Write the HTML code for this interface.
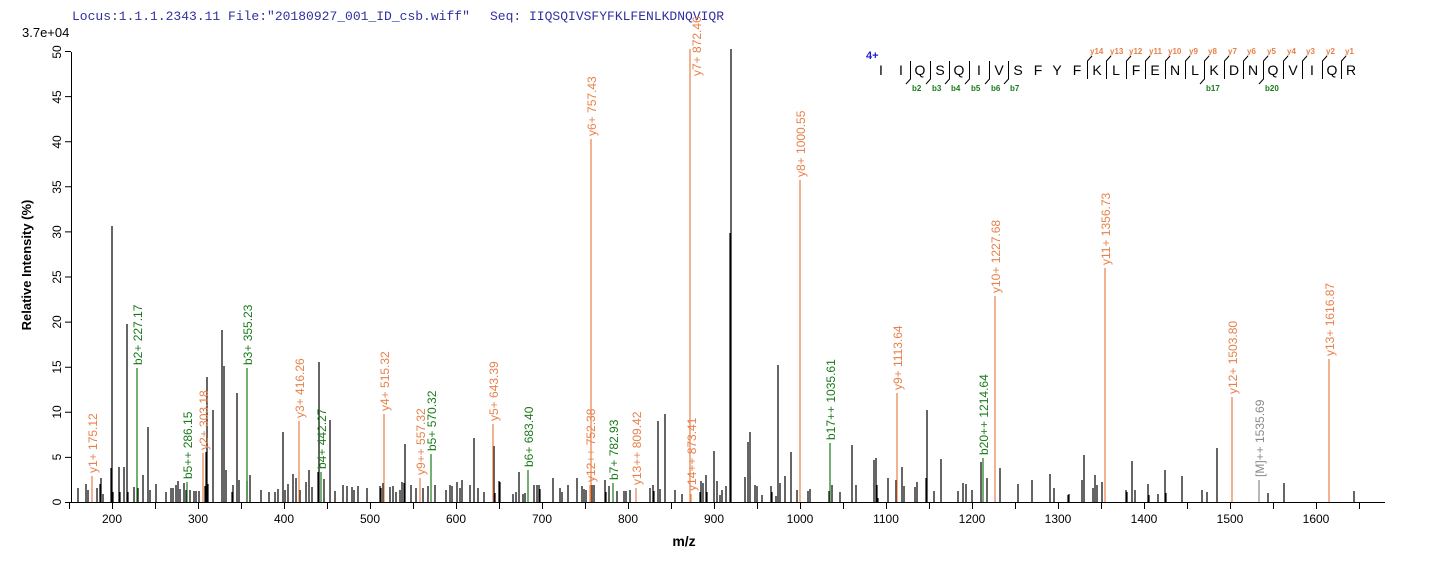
<!DOCTYPE html>
<html><head><meta charset="utf-8"><style>body{margin:0;background:#fff}svg{display:block}</style></head><body>
<svg width="1436" height="562" xmlns="http://www.w3.org/2000/svg" font-family="Liberation Sans, Arial, sans-serif">
<text x="72" y="20" font-family="Liberation Mono, monospace" font-size="13" fill="#3030a0">Locus:1.1.1.2343.11 File:"20180927_001_ID_csb.wiff"</text>
<text x="490" y="20" font-family="Liberation Mono, monospace" font-size="13" fill="#3030a0">Seq: IIQSQIVSFYFKLFENLKDNQVIQR</text>
<text x="22" y="37" font-size="13" fill="#000">3.7e+04</text>
<text transform="translate(31,265) rotate(-90)" text-anchor="middle" font-size="13" font-weight="bold">Relative   Intensity (%)</text>
<text x="684" y="546" text-anchor="middle" font-size="14" font-weight="bold">m/z</text>
<!-- axes -->
<g stroke="#000" stroke-width="1" fill="none">
<path d="M71.5 52 V502.5 H1385"/>
<path d="M65 502.5H71M65 457.4H71M65 412.3H71M65 367.2H71M65 322.1H71M65 277H71M65 231.9H71M65 186.8H71M65 141.7H71M65 96.6H71M65 51.5H71"/>
<path d="M69.5 503V509M112.5 503V509M155.5 503V509M198.5 503V509M241.5 503V509M284.5 503V509M327.5 503V509M370.5 503V509M413.5 503V509M456.5 503V509M499.5 503V509M542.5 503V509M585.5 503V509M628.5 503V509M671.5 503V509M714.5 503V509M757.5 503V509M800.5 503V509M843.5 503V509M886.5 503V509M929.5 503V509M972.5 503V509M1015.5 503V509M1058.5 503V509M1101.5 503V509M1144.5 503V509M1187.5 503V509M1230.5 503V509M1273.5 503V509M1316.5 503V509M1359.5 503V509"/>
</g>
<g font-size="12" text-anchor="middle">
<text x="112" y="523">200</text><text x="198" y="523">300</text><text x="284" y="523">400</text><text x="370" y="523">500</text><text x="456" y="523">600</text><text x="542" y="523">700</text><text x="628" y="523">800</text><text x="714" y="523">900</text><text x="800" y="523">1000</text><text x="886" y="523">1100</text><text x="972" y="523">1200</text><text x="1058" y="523">1300</text><text x="1144" y="523">1400</text><text x="1230" y="523">1500</text><text x="1316" y="523">1600</text>
</g>
<g font-size="12" text-anchor="middle">
<text transform="translate(61,502) rotate(-90)">0</text><text transform="translate(61,457) rotate(-90)">5</text><text transform="translate(61,412) rotate(-90)">10</text><text transform="translate(61,367) rotate(-90)">15</text><text transform="translate(61,322) rotate(-90)">20</text><text transform="translate(61,277) rotate(-90)">25</text><text transform="translate(61,232) rotate(-90)">30</text><text transform="translate(61,187) rotate(-90)">35</text><text transform="translate(61,142) rotate(-90)">40</text><text transform="translate(61,97) rotate(-90)">45</text><text transform="translate(61,52) rotate(-90)">50</text>
</g>
<!-- black peaks -->
<path stroke="#000" stroke-width="1.2" fill="none" d="
M78 502V488M86 502V484M88 502V490M97 502V488M100 502V484M101 502V478M103 502V494M111 502V468M112 502V226M113 502V492M119 502V467M120 502V492M124 502V467M127 502V324M128 502V492M134 502V487M138 502V488M143 502V475M148 502V427M150 502V490M156 502V484M166 502V492M171 502V488M173 502V488M176 502V485M178 502V481M180 502V489M184 502V483M186 502V490M190 502V490M194 502V491M196 502V491M199 502V491M205 502V486M206 502V452M207 502V377M208 502V484M213 502V410M222 502V330M224 502V366M226 502V470M232 502V492M233 502V485M237 502V393M239 502V480M247 502V481M250 502V475M261 502V490M269 502V492M275 502V492M278 502V489M283 502V432M285 502V490M288 502V484M293 502V474M296 502V478M300 502V490M306 502V482M309 502V470M312 502V487M318 502V472M319 502V362M324 502V479M330 502V420M335 502V491M343 502V485M347 502V486M352 502V487M354 502V490M358 502V486M367 502V488M380 502V486M381 502V488M383 502V483M390 502V487M393 502V486M396 502V492M400 502V490M402 502V482M404 502V483M405 502V444M411 502V485M416 502V488M423 502V488M428 502V486M435 502V485M446 502V490M450 502V485M452 502V486M457 502V482M460 502V488M462 502V480M470 502V485M474 502V438M478 502V488
M484 502V492M494 502V446M495 502V493M499 502V481M500 502V482M513 502V494M516 502V492M519 502V472M523 502V494M525 502V493M534 502V485M537 502V485M539 502V485M540 502V489M553 502V478M560 502V488M562 502V492M568 502V485M577 502V478M582 502V486M584 502V489M586 502V490M592 502V485M594 502V485M605 502V480M606 502V492M609 502V486M617 502V491M624 502V491M626 502V491M630 502V490M650 502V488M653 502V485M654 502V491M658 502V421M660 502V489M665 502V414M675 502V490M682 502V494M700 502V492M701 502V481M703 502V483M706 502V475M707 502V492M714 502V451M717 502V481M720 502V495M722 502V490M726 502V486M731 502V49M730 502V233M745 502V477M748 502V442M750 502V432M755 502V485M757 502V486M762 502V495M771 502V486M772 502V492M776 502V496M778 502V365M780 502V483M785 502V476M791 502V452M797 502V490M808 502V491M810 502V489M829 502V491M832 502V485M840 502V492M852 502V445M856 502V485M874 502V460M876 502V458M877 502V485M878 502V498M888 502V478M915 502V487M917 502V482
M896 502V480M902 502V467M904 502V486M926 502V478M927 502V410M941 502V459M934 502V491M958 502V491M963 502V483M966 502V484M972 502V490M981 502V462M987 502V478M1000 502V468M1018 502V484M1032 502V480M1050 502V474M1054 502V488M1068 502V495M1069 502V494M1082 502V480M1084 502V455M1095 502V475M1097 502V485M1093 502V488M1102 502V482M1126 502V490M1127 502V492M1132 502V461M1135 502V490M1148 502V484M1149 502V495M1158 502V494M1165 502V470M1166 502V493M1182 502V476M1202 502V490M1207 502V492M1217 502V448M1268 502V493M1284 502V483M1354 502V491"/>
<!-- annotated peaks -->
<g stroke="#e8804a" stroke-width="1.2">
<path d="M92 502V476M203 502V453M299 502V421M384 502V414M420 502V478M493 502V424M590 502V485M591 502V139M636 502V488M690 502V49M691 502V494M800 502V180M897 502V393M995 502V296M1105 502V268M1232 502V397M1329 502V359"/>
</g>
<g stroke="#1a7a1a" stroke-width="1.2">
<path d="M137 502V368M187 502V482M247 502V368M321 502V472M431 502V454M528 502V470M613 502V483M830 502V443M983 502V458"/>
</g>
<path stroke="#888" stroke-width="1.2" d="M1259 502V480"/>
<g font-size="12" fill="#e8804a">
<text transform="translate(97,473) rotate(-90)">y1+ 175.12</text>
<text transform="translate(208,450) rotate(-90)">y2+ 303.18</text>
<text transform="translate(304,418) rotate(-90)">y3+ 416.26</text>
<text transform="translate(389,411) rotate(-90)">y4+ 515.32</text>
<text transform="translate(425,475) rotate(-90)">y9++ 557.32</text>
<text transform="translate(498,421) rotate(-90)">y5+ 643.39</text>
<text transform="translate(595,482) rotate(-90)">y12++ 752.38</text>
<text transform="translate(596,136) rotate(-90)">y6+ 757.43</text>
<text transform="translate(641,485) rotate(-90)">y13++ 809.42</text>
<text transform="translate(701,76) rotate(-90)">y7+ 872.46</text>
<text transform="translate(696,491) rotate(-90)">y14++ 873.41</text>
<text transform="translate(805,177) rotate(-90)">y8+ 1000.55</text>
<text transform="translate(902,390) rotate(-90)">y9+ 1113.64</text>
<text transform="translate(1000,293) rotate(-90)">y10+ 1227.68</text>
<text transform="translate(1110,265) rotate(-90)">y11+ 1356.73</text>
<text transform="translate(1237,394) rotate(-90)">y12+ 1503.80</text>
<text transform="translate(1334,356) rotate(-90)">y13+ 1616.87</text>
</g>
<g font-size="12" fill="#1a7a1a">
<text transform="translate(142,365) rotate(-90)">b2+ 227.17</text>
<text transform="translate(192,479) rotate(-90)">b5++ 286.15</text>
<text transform="translate(252,365) rotate(-90)">b3+ 355.23</text>
<text transform="translate(326,469) rotate(-90)">b4+ 442.27</text>
<text transform="translate(436,451) rotate(-90)">b5+ 570.32</text>
<text transform="translate(533,467) rotate(-90)">b6+ 683.40</text>
<text transform="translate(618,480) rotate(-90)">b7+ 782.93</text>
<text transform="translate(835,440) rotate(-90)">b17++ 1035.61</text>
<text transform="translate(988,455) rotate(-90)">b20++ 1214.64</text>
</g>
<text transform="translate(1264,477) rotate(-90)" font-size="12" fill="#888">[M]++ 1535.69</text>
<!-- sequence -->
<text x="866" y="59" font-size="11" font-weight="bold" fill="#2020d0">4+</text>
<g font-size="14" text-anchor="middle" fill="#000">
<text x="881" y="75">I</text><text x="901" y="75">I</text><text x="920" y="75">Q</text><text x="940" y="75">S</text><text x="959" y="75">Q</text><text x="979" y="75">I</text><text x="999" y="75">V</text><text x="1018" y="75">S</text><text x="1038" y="75">F</text><text x="1057" y="75">Y</text><text x="1077" y="75">F</text><text x="1097" y="75">K</text><text x="1116" y="75">L</text><text x="1136" y="75">F</text><text x="1155" y="75">E</text><text x="1175" y="75">N</text><text x="1195" y="75">L</text><text x="1214" y="75">K</text><text x="1234" y="75">D</text><text x="1253" y="75">N</text><text x="1273" y="75">Q</text><text x="1293" y="75">V</text><text x="1312" y="75">I</text><text x="1332" y="75">Q</text><text x="1351" y="75">R</text>
</g>
<g stroke="#000" stroke-width="1" fill="none">
<path d="M910.5 61V79L906 84M930.5 61V79L926 84M949.5 61V79L945 84M969.5 61V79L965 84M989.5 61V79L985 84M1008.5 61V79L1004 84M1204.5 61V79L1200 84M1263.5 61V79L1259 84"/>
<path d="M1087.5 79V61L1092 56M1106.5 79V61L1111 56M1126.5 79V61L1131 56M1145.5 79V61L1150 56M1165.5 79V61L1170 56M1185.5 79V61L1190 56M1204.5 79V61L1209 56M1224.5 79V61L1229 56M1243.5 79V61L1248 56M1263.5 79V61L1268 56M1283.5 79V61L1288 56M1302.5 79V61L1307 56M1322.5 79V61L1327 56M1341.5 79V61L1346 56"/>
</g>
<g font-size="8" fill="#e8804a" font-weight="bold">
<text x="1090" y="54">y14</text><text x="1110" y="54">y13</text><text x="1129" y="54">y12</text><text x="1149" y="54">y11</text><text x="1168" y="54">y10</text><text x="1189" y="54">y9</text><text x="1208" y="54">y8</text><text x="1228" y="54">y7</text><text x="1247" y="54">y6</text><text x="1267" y="54">y5</text><text x="1287" y="54">y4</text><text x="1306" y="54">y3</text><text x="1326" y="54">y2</text><text x="1345" y="54">y1</text>
</g>
<g font-size="8" fill="#1a7a1a" font-weight="bold">
<text x="912" y="91">b2</text><text x="932" y="91">b3</text><text x="951" y="91">b4</text><text x="971" y="91">b5</text><text x="991" y="91">b6</text><text x="1010" y="91">b7</text><text x="1206" y="91">b17</text><text x="1265" y="91">b20</text>
</g>
</svg>
</body></html>
